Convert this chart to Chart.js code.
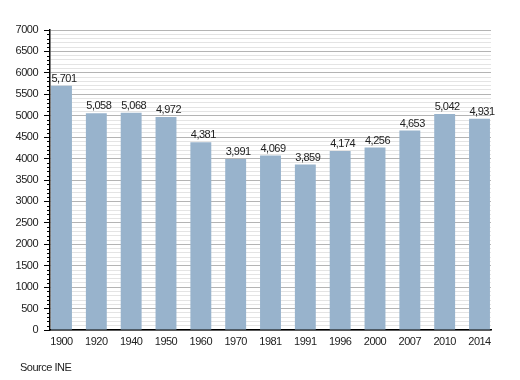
<!DOCTYPE html>
<html>
<head>
<meta charset="utf-8">
<script src="https://cdn.jsdelivr.net/npm/chart.js@4.4.1/dist/chart.umd.min.js"></script>
<style>
html,body{margin:0;padding:0;background:#fff;}
#wrap{width:520px;height:380px;position:relative;}
</style>
</head>
<body>
<div id="wrap"><canvas id="c" width="520" height="380"></canvas></div>
<script>
const years = ["1900","1920","1940","1950","1960","1970","1981","1991","1996","2000","2007","2010","2014"];
const population = [5701,5058,5068,4972,4381,3991,4069,3859,4174,4256,4653,5042,4931];
const yTicks = [0,500,1000,1500,2000,2500,3000,3500,4000,4500,5000,5500,6000,6500,7000];
const sourceText = "Source INE";

const FONT = "'Liberation Sans', Arial, sans-serif";
const SPACING = "-0.5px";

const spacingPlugin = {
  id: 'spacing',
  beforeInit(chart) { chart.ctx.letterSpacing = SPACING; },
  beforeDraw(chart) { chart.ctx.letterSpacing = SPACING; }
};

const valueLabels = {
  id: 'valueLabels',
  afterDatasetsDraw(chart) {
    const ctx = chart.ctx;
    const meta = chart.getDatasetMeta(0);
    ctx.save();
    ctx.letterSpacing = SPACING;
    ctx.font = "11px " + FONT;
    ctx.fillStyle = "#222";
    ctx.textAlign = "center";
    ctx.textBaseline = "alphabetic";
    meta.data.forEach((bar, i) => {
      ctx.fillText(population[i].toLocaleString('en-US'), bar.x + 2.5, bar.y - 4);
    });
    ctx.restore();
  }
};

const minorTicks = {
  id: 'minorTicks',
  afterDraw(chart) {
    const ctx = chart.ctx;
    const y = chart.scales.y;
    const left = chart.chartArea.left;
    ctx.save();
    ctx.strokeStyle = "#000";
    ctx.lineWidth = 1;
    for (let v = 0; v <= 7000; v += 100) {
      if (v % 500 === 0) continue;
      const py = Math.round(y.getPixelForValue(v)) + 0.5;
      ctx.beginPath();
      ctx.moveTo(left - 3, py);
      ctx.lineTo(left, py);
      ctx.stroke();
    }
    ctx.letterSpacing = SPACING;
    ctx.font = "11px " + FONT;
    ctx.fillStyle = "#222";
    ctx.textAlign = "left";
    ctx.textBaseline = "middle";
    ctx.fillText(sourceText, 20, 368);
    ctx.restore();
  }
};

new Chart(document.getElementById('c'), {
  type: 'bar',
  data: {
    datasets: [{
      data: population.map((v, i) => ({x: i, y: v})),
      backgroundColor: '#98b3cc',
      borderWidth: 0,
      barPercentage: 0.6,
      categoryPercentage: 1.0
    }]
  },
  plugins: [spacingPlugin, valueLabels, minorTicks],
  options: {
    responsive: false,
    animation: false,
    layout: {padding: {left: 0, right: 29, top: 30, bottom: 0}},
    plugins: {legend: {display: false}, tooltip: {enabled: false}, title: {display: false}},
    scales: {
      x: {
        type: 'linear',
        offset: false,
        min: -0.33,
        max: 12.33,
        afterBuildTicks(scale) {
          scale.ticks = years.map((_, i) => ({value: i}));
        },
        afterFit(scale) { scale.height = 50; },
        ticks: {
          autoSkip: false,
          maxRotation: 0,
          padding: 5,
          color: '#222',
          font: {family: FONT, size: 11},
          callback: (v) => years[v] !== undefined ? years[v] : ''
        },
        grid: {display: false, drawTicks: false},
        border: {display: true, color: '#000', width: 1.5}
      },
      y: {
        min: 0,
        max: 7000,
        afterBuildTicks(scale) {
          const t = [];
          for (let v = 0; v <= 7000; v += 100) t.push({value: v});
          scale.ticks = t;
        },
        afterFit(scale) { scale.width = 50; },
        ticks: {
          autoSkip: false,
          padding: 6,
          color: '#222',
          font: {family: FONT, size: 11},
          callback: (v) => yTicks.includes(v) ? String(v) : ''
        },
        grid: {
          color: (c) => (c.tick && c.tick.value % 500 === 0) ? '#b4b4b4' : '#e4e4e4',
          tickColor: (c) => (c.tick && c.tick.value % 500 === 0) ? '#000' : 'rgba(0,0,0,0)',
          tickLength: 6,
          lineWidth: 1
        },
        border: {display: true, color: '#000', width: 1.5}
      }
    }
  }
});
</script>
</body>
</html>
